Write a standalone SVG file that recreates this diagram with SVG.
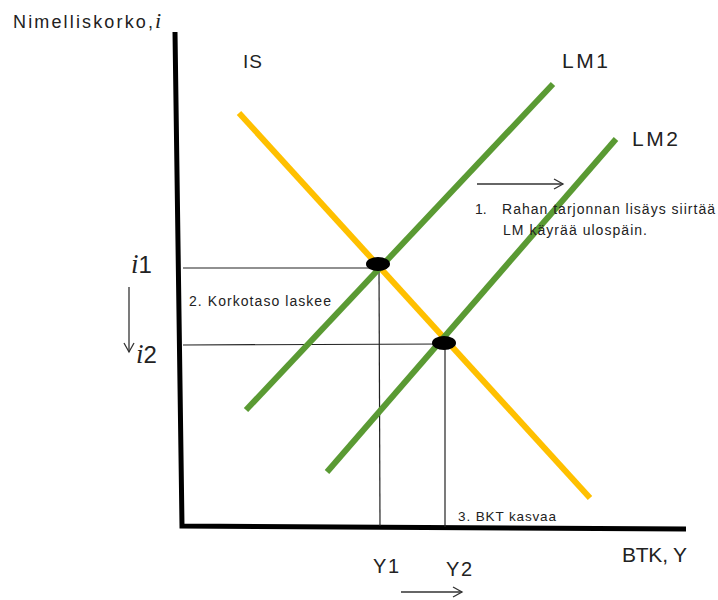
<svg xmlns="http://www.w3.org/2000/svg" width="718" height="600" viewBox="0 0 718 600">
<defs>
<style>
.t{font-family:"Liberation Sans","Open Sans",Arial,sans-serif;fill:#222}
.it{font-family:"Liberation Serif","Times New Roman",serif;font-style:italic}
.axis{stroke:#000;stroke-width:5;fill:none}
.guide{stroke:#222;stroke-width:1.2;fill:none}
.is{stroke:#FFC000;stroke-width:6;fill:none}
.lm{stroke:#5A9A33;stroke-width:6;fill:none}
.arr{stroke:#333;stroke-width:1.3;fill:none}
</style>
<marker id="ah" markerWidth="12" markerHeight="12" refX="10" refY="6" orient="auto" markerUnits="userSpaceOnUse">
<path d="M1,1 L10,6 L1,11" fill="none" stroke="#333" stroke-width="1.3"/>
</marker>
</defs>
<rect width="718" height="600" fill="#fff"/>
<g id="axes">
<path class="axis" d="M175,32 L182,526 L686,529"/>
</g>
<g id="connectors">
<line class="guide" x1="183" y1="268" x2="378" y2="268"/>
<line class="guide" x1="183" y1="345" x2="444" y2="344"/>
<line class="guide" x1="379" y1="266" x2="380" y2="526"/>
<line class="guide" x1="445" y1="344" x2="445" y2="527"/>
<line class="arr" x1="477" y1="184" x2="563" y2="184" marker-end="url(#ah)"/>
<line class="arr" x1="129" y1="287" x2="129" y2="352" marker-end="url(#ah)"/>
<line class="arr" x1="401" y1="592" x2="462" y2="592" marker-end="url(#ah)"/>
</g>
<g id="IS">
<line class="is" x1="239" y1="113" x2="590" y2="498"/>
<text class="t" x="243" y="68" font-size="19" textLength="19">IS</text>
</g>
<g id="LM1">
<line class="lm" x1="246" y1="410" x2="553" y2="84"/>
<text class="t" x="562" y="68" font-size="21" textLength="46">LM1</text>
</g>
<g id="LM2">
<line class="lm" x1="327" y1="472" x2="616" y2="139"/>
<text class="t" x="632" y="146" font-size="21" textLength="46">LM2</text>
</g>
<g id="E1"><ellipse cx="378" cy="264" rx="12" ry="7" fill="#000"/></g>
<g id="E2"><ellipse cx="444" cy="343" rx="12" ry="7" fill="#000"/></g>
<g id="labels">
<text class="t" x="13" y="28" font-size="18" textLength="140">Nimelliskorko,</text>
<text class="t it" x="155" y="28" font-size="22">i</text>
<text class="t" x="131" y="273" font-size="24"><tspan class="it" font-size="27">i</tspan>1</text>
<text class="t" x="136" y="363" font-size="24"><tspan class="it" font-size="27">i</tspan>2</text>
<text class="t" x="475" y="214" font-size="14">1.</text>
<text class="t" x="502" y="214" font-size="14" textLength="213">Rahan tarjonnan lisäys siirtää</text>
<text class="t" x="503" y="235" font-size="14" textLength="144">LM käyrää ulospäin.</text>
<text class="t" x="189" y="306" font-size="14" textLength="142">2. Korkotaso laskee</text>
<text class="t" x="458" y="521" font-size="13.5" textLength="98">3. BKT kasvaa</text>
<text class="t" x="622" y="562" font-size="21" textLength="65">BTK, Y</text>
<text class="t" x="373" y="573" font-size="20" textLength="26">Y1</text>
<text class="t" x="446" y="576" font-size="20" textLength="26">Y2</text>
</g>
</svg>
